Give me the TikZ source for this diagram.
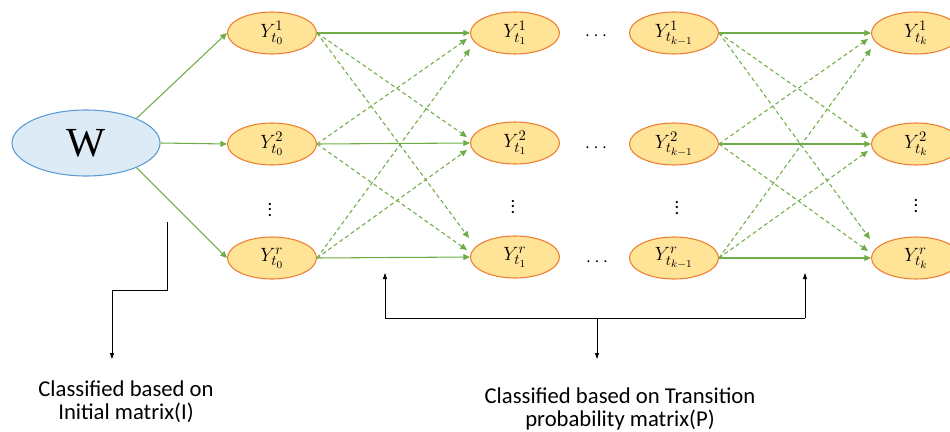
\documentclass[tikz,border=0pt]{standalone}
\usepackage{fontspec}
\setmainfont{Carlito}
\newfontfamily\wfont{Liberation Serif}
\usetikzlibrary{arrows.meta,calc,shapes.geometric}
\definecolor{gr}{HTML}{70AD47}
\definecolor{yfill}{HTML}{FFE497}
\definecolor{ydraw}{HTML}{ED7D31}
\definecolor{wfill}{HTML}{DDEBF7}
\definecolor{wdraw}{HTML}{5B9BD5}
\begin{document}
\begin{tikzpicture}[x=0.75pt,y=-0.75pt,
  ynode/.style={ellipse,draw=ydraw,fill=yfill,line width=0.8pt,minimum width=66.75pt,minimum height=31.5pt,inner sep=0pt,font=\fontsize{15.5}{18}\selectfont},
  wnode/.style={ellipse,draw=wdraw,fill=wfill,line width=0.8pt,minimum width=111pt,minimum height=49.5pt,inner sep=0pt,font=\wfont\fontsize{31}{34}\selectfont},
  gsolid/.style={draw=gr,line width=0.8pt,-{Triangle[length=5pt,width=4.5pt]}},
  gdash/.style={gsolid,dash pattern=on 3pt off 2.2pt},
  barrow/.style={draw=black,line width=0.6pt,-{Triangle[length=4.5pt,width=3pt]}},
  dotsnode/.style={inner sep=0pt,font=\fontsize{14}{16}\selectfont},
  txt/.style={align=center,inner sep=0pt,font=\fontsize{17}{17.5}\selectfont}]
\useasboundingbox (0,0) rectangle (950,432);

\node[wnode] (W) at (86,143) {W};

\node[ynode] (n10) at (272,33) {$Y^{1}_{t_{0}}$};
\node[ynode] (n20) at (272,144) {$Y^{2}_{t_{0}}$};
\node[ynode] (n30) at (272,258) {$Y^{r}_{t_{0}}$};
\node[ynode] (n11) at (515,33) {$Y^{1}_{t_{1}}$};
\node[ynode] (n21) at (515,143) {$Y^{2}_{t_{1}}$};
\node[ynode] (n31) at (515,257) {$Y^{r}_{t_{1}}$};
\node[ynode] (n12) at (674,33) {$Y^{1}_{t_{k-1}}$};
\node[ynode] (n22) at (674,144) {$Y^{2}_{t_{k-1}}$};
\node[ynode] (n32) at (674,258) {$Y^{r}_{t_{k-1}}$};
\node[ynode] (n13) at (916,33) {$Y^{1}_{t_{k}}$};
\node[ynode] (n23) at (916,144) {$Y^{2}_{t_{k}}$};
\node[ynode] (n33) at (916,258) {$Y^{r}_{t_{k}}$};

\node[dotsnode] (h1) at (596,36) {$\cdots$};
\node[dotsnode] (h2) at (596,148) {$\cdots$};
\node[dotsnode] (h3) at (597,262) {$\cdots$};
\node[dotsnode] (v0) at (270,206) {$\vdots$};
\node[dotsnode] (v1) at (513,203) {$\vdots$};
\node[dotsnode] (v2) at (677,204) {$\vdots$};
\node[dotsnode] (v3) at (916,202) {$\vdots$};

\draw[gsolid] (W.26) -- (n10.west);
\draw[gsolid] (W.east) -- (n20.west);
\draw[gsolid] (W.-26) -- (n30.west);

\foreach \a/\b in {0/1,2/3}{
  \draw[gsolid] (n1\a.east) -- (n1\b.west);
  \draw[gsolid] (n2\a.east) -- (n2\b.west);
  \draw[gsolid] (n3\a.east) -- (n3\b.west);
  \draw[gdash] (n2\a.east) -- ($(n1\b.west)+(-3,6)$);
  \draw[gdash] (n3\a.east) -- ($(n1\b.west)+(0,16)$);
  \draw[gdash] (n1\a.east) -- ($(n2\b.west)+(-3,-6)$);
  \draw[gdash] (n3\a.east) -- ($(n2\b.west)+(-3,7)$);
  \draw[gdash] (n1\a.east) -- ($(n3\b.west)+(-1,-19)$);
  \draw[gdash] (n2\a.east) -- ($(n3\b.west)+(-3,-7)$);
}

\coordinate (la) at (167,222);
\coordinate (lk1) at (167,290);
\coordinate (lk2) at (112,290);
\coordinate (ltip) at (112,359);
\draw[barrow] (la) -- (lk1) -- (lk2) -- (ltip);

\coordinate (rl) at (385,318);
\coordinate (rlt) at (385,273);
\coordinate (rr) at (805,318);
\coordinate (rrt) at (805,273);
\coordinate (rm) at (597,318);
\coordinate (rmt) at (597,359);
\draw[barrow] (rl) -- (rlt);
\draw[barrow] (rr) -- (rrt);
\draw[draw=black,line width=0.6pt] (rl) -- (rr);
\draw[barrow] (rm) -- (rmt);

\node[txt] (t1) at (126,402) {Classified based on\\Initial matrix(I)};
\node[txt] (t2) at (620,409) {Classified based on Transition\\probability matrix(P)};
\end{tikzpicture}
\end{document}
